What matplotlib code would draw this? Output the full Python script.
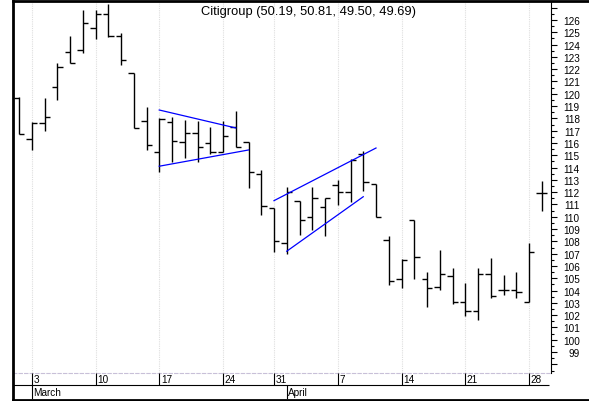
import matplotlib
matplotlib.use('Agg')
import matplotlib.pyplot as plt
from matplotlib.ticker import FixedLocator, MultipleLocator, FuncFormatter
from matplotlib.lines import Line2D

plt.rcParams['font.family'] = ['Liberation Sans', 'DejaVu Sans']

title = "Citigroup (50.19, 50.81, 49.50, 49.69)"

dates = ['2005-03-02', '2005-03-03', '2005-03-04', '2005-03-07', '2005-03-08', '2005-03-09',
         '2005-03-10', '2005-03-11', '2005-03-14', '2005-03-15', '2005-03-16', '2005-03-17',
         '2005-03-18', '2005-03-21', '2005-03-22', '2005-03-23', '2005-03-24', '2005-03-28',
         '2005-03-29', '2005-03-30', '2005-03-31', '2005-04-01', '2005-04-04', '2005-04-05',
         '2005-04-06', '2005-04-07', '2005-04-08', '2005-04-11', '2005-04-12', '2005-04-13',
         '2005-04-14', '2005-04-15', '2005-04-18', '2005-04-19', '2005-04-20', '2005-04-21',
         '2005-04-22', '2005-04-25', '2005-04-26', '2005-04-27', '2005-04-28', '2005-04-29']

opens = [119.69, 116.33, 117.65, 120.53, 123.42, 123.54, 125.33, 126.49, 124.70, 121.72,
         117.81, 115.30, 117.70, 116.11, 116.79, 116.00, 115.24, 117.28, 116.06, 113.48,
         110.69, 107.87, 111.26, 110.01, 110.77, 112.59, 112.00, 115.11, 112.67, 108.14,
         104.94, 109.76, 104.94, 104.32, 105.21, 103.10, 102.32, 105.35, 104.07, 104.07,
         103.10, 111.93]
highs = [119.72, 117.68, 119.63, 122.48, 124.70, 126.81, 126.81, 127.28, 124.92, 121.72,
         118.90, 118.01, 118.09, 117.87, 117.81, 117.28, 117.81, 118.58, 116.06, 113.80,
         110.69, 112.40, 111.26, 112.40, 111.53, 113.02, 114.70, 115.37, 112.67, 108.46,
         106.57, 109.76, 105.49, 107.30, 105.84, 104.61, 105.84, 106.63, 105.27, 105.54,
         107.87, 112.89]
lows = [116.73, 115.43, 116.95, 119.50, 122.48, 123.30, 124.46, 124.64, 122.34, 117.22,
        115.43, 113.62, 114.48, 114.78, 114.48, 115.11, 115.24, 115.70, 112.32, 110.17,
        107.11, 106.98, 108.52, 108.93, 108.46, 110.96, 111.18, 112.12, 109.96, 104.48,
        104.19, 104.94, 102.64, 104.05, 102.91, 101.90, 101.61, 103.40, 103.67, 103.40,
        103.10, 110.50]
closes = [116.73, 117.65, 118.11, 122.20, 122.50, 125.76, 126.49, 124.70, 122.75, 117.25,
          115.86, 117.95, 116.19, 116.79, 115.70, 115.30, 116.59, 115.70, 113.67, 110.90,
          108.06, 111.99, 109.74, 111.53, 111.50, 111.99, 114.64, 112.80, 109.96, 104.76,
          106.49, 106.71, 104.21, 105.35, 103.05, 102.32, 105.35, 103.59, 104.07, 103.86,
          107.11, 111.93]

week_labels = ['3', '10', '17', '24', '31', '7', '14', '21', '28']
week_dates = ['2005-03-03', '2005-03-10', '2005-03-17', '2005-03-24', '2005-03-31',
              '2005-04-07', '2005-04-14', '2005-04-21', '2005-04-28']
month_labels = ['March', 'April']
month_dates = ['2005-03-03', '2005-04-01']

# trend lines (start date, end date, start price, end price)
trend_start_dates = ['2005-03-17', '2005-03-17', '2005-03-31', '2005-04-01']
trend_end_dates = ['2005-03-28', '2005-03-29', '2005-04-12', '2005-04-11']
trend_start_prices = [118.68, 114.11, 111.31, 107.20]
trend_end_prices = [117.22, 115.43, 115.59, 111.63]

y_labels = list(range(99, 127))

W, H = 589, 402


def rect(x0, y0, x1, y1):
    return [x0 / W, 1 - y1 / H, (x1 - x0) / W, (y1 - y0) / H]


pos = {d: i for i, d in enumerate(dates)}
xs = list(range(len(dates)))

fig = plt.figure(figsize=(W / 100, H / 100), dpi=100)
ax = fig.add_axes(rect(13, 3, 551, 374))
xmin, xmax = (13 - 19) / 12.75, (551 - 19) / 12.75
ax.set_xlim(xmin, xmax)
ax.set_ylim(97.3, 127.46)

# weekly grid
for d in week_dates:
    ax.axvline(pos[d], color='#dedede', lw=0.8, ls=(0, (1, 1)), zorder=0)

tick = 0.42
ax.vlines(xs, lows, highs, color='black', lw=1.0)
ax.hlines(opens, [x - tick for x in xs], xs, color='black', lw=1.0)
ax.hlines(closes, xs, [x + tick for x in xs], color='black', lw=1.0)

for sd, ed, sp, ep in zip(trend_start_dates, trend_end_dates, trend_start_prices, trend_end_prices):
    ax.plot([pos[sd], pos[ed]], [sp, ep], color='#0000ff', lw=0.9)

for s in ['left', 'top']:
    ax.spines[s].set_visible(False)
ax.spines['bottom'].set_color('#c8c0d8')
ax.spines['bottom'].set_linestyle((0, (3, 2)))
ax.spines['bottom'].set_linewidth(0.8)
ax.spines['right'].set_color('black')
ax.spines['right'].set_linewidth(0.8)

ax.set_xticks([])
ax.yaxis.tick_right()
ax.yaxis.set_major_locator(FixedLocator(list(range(98, 128))))
ax.yaxis.set_minor_locator(MultipleLocator(0.5))
ax.yaxis.set_major_formatter(FuncFormatter(lambda v, p: str(int(round(v))) if int(round(v)) in y_labels else ''))
ax.tick_params(axis='y', which='major', length=4.3, width=0.8, direction='out', pad=16.5, labelsize=7.2)
ax.tick_params(axis='y', which='minor', length=2.2, width=0.8, direction='out')
for lab in ax.get_yticklabels():
    lab.set_horizontalalignment('right')

# bottom date band
axb = fig.add_axes(rect(13, 374, 551, 400))
axb.set_xlim(xmin, xmax)
axb.set_ylim(26, 0)
axb.axis('off')
axb.hlines(12, xmin, 41.6, color='black', lw=0.8)
for d, lab in zip(week_dates, week_labels):
    axb.vlines(pos[d], 0, 12, color='black', lw=0.8)
    axb.text(pos[d] + 0.12, 6.3, lab, fontsize=7.2, ha='left', va='center')
for d, lab in zip(month_dates, month_labels):
    axb.vlines(pos[d], 12, 26, color='black', lw=0.8)
    axb.text(pos[d] + 0.12, 19.5, lab, fontsize=7.2, ha='left', va='center')

# outer frame
fig.add_artist(Line2D([12.5 / W, 12.5 / W], [1 - 2 / H, 1 - 401 / H], color='black', lw=2))
fig.add_artist(Line2D([12.5 / W, 589 / W], [1 - 2 / H, 1 - 2 / H], color='black', lw=2))
fig.add_artist(Line2D([12.5 / W, 589 / W], [1 - 400.5 / H, 1 - 400.5 / H], color='black', lw=2))

fig.text(308.5 / W, 1 - 12 / H, title, ha='center', va='center', fontsize=9.3)

fig.savefig('out.png', dpi=100)
